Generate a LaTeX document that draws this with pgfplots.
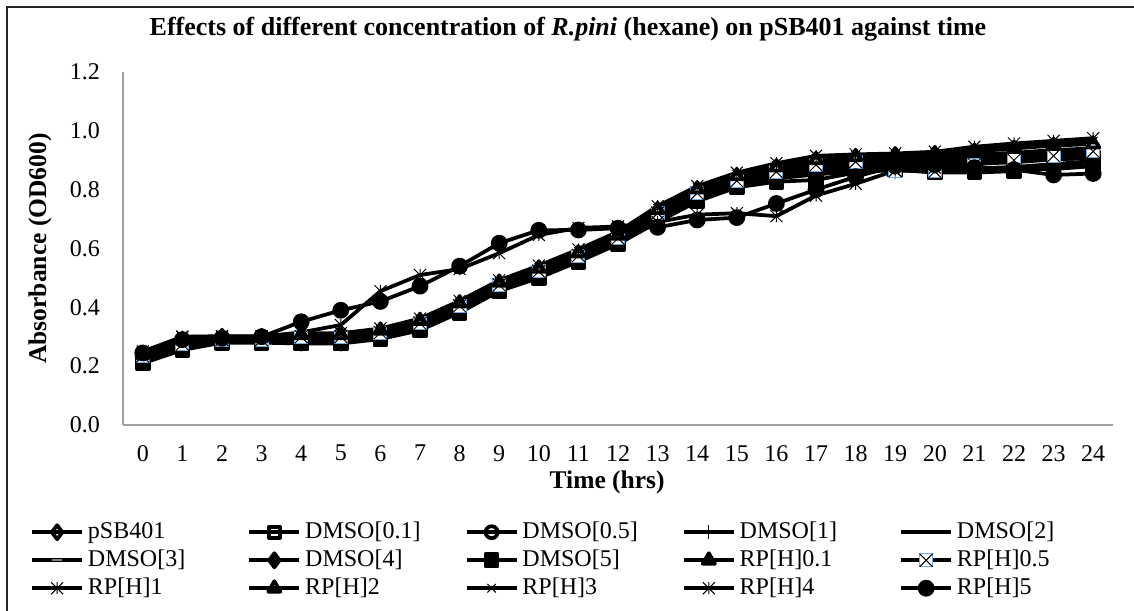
\documentclass[border=0pt]{standalone}
\usepackage{fontspec}
\setmainfont{Liberation Serif}
\usepackage{pgfplots}
\pgfplotsset{compat=1.18}
\usepackage{pgfplotstable}

\definecolor{axgray}{RGB}{160,160,160}
\definecolor{boxblue}{RGB}{120,170,225}

\pgfdeclareplotmark{boxx}{%
  \pgfpathrectangle{\pgfqpoint{-\pgfplotmarksize}{-\pgfplotmarksize}}{\pgfqpoint{2\pgfplotmarksize}{2\pgfplotmarksize}}%
  \pgfsetfillcolor{white}\pgfsetstrokecolor{boxblue}%
  \pgfusepath{fill,stroke}%
  \pgfsetstrokecolor{black}%
  \pgfpathmoveto{\pgfqpoint{-\pgfplotmarksize}{-\pgfplotmarksize}}%
  \pgfpathlineto{\pgfqpoint{\pgfplotmarksize}{\pgfplotmarksize}}%
  \pgfpathmoveto{\pgfqpoint{-\pgfplotmarksize}{\pgfplotmarksize}}%
  \pgfpathlineto{\pgfqpoint{\pgfplotmarksize}{-\pgfplotmarksize}}%
  \pgfusepath{stroke}}

\pgfdeclareplotmark{xstar}{%
  \pgfpathmoveto{\pgfqpoint{-\pgfplotmarksize}{-\pgfplotmarksize}}%
  \pgfpathlineto{\pgfqpoint{\pgfplotmarksize}{\pgfplotmarksize}}%
  \pgfpathmoveto{\pgfqpoint{-\pgfplotmarksize}{\pgfplotmarksize}}%
  \pgfpathlineto{\pgfqpoint{\pgfplotmarksize}{-\pgfplotmarksize}}%
  \pgfpathmoveto{\pgfqpoint{0pt}{-\pgfplotmarksize}}%
  \pgfpathlineto{\pgfqpoint{0pt}{\pgfplotmarksize}}%
  \pgfusepath{stroke}}

\pgfplotstableread{
t pSB D01 D05 D1 D2 D3 D4 D5
0 0.22 0.22 0.23 0.235 0.225 0.23 0.215 0.21
1 0.268 0.262 0.27 0.28 0.268 0.275 0.258 0.255
2 0.29 0.285 0.29 0.295 0.288 0.292 0.282 0.28
3 0.29 0.286 0.292 0.297 0.29 0.294 0.283 0.28
4 0.288 0.284 0.292 0.30 0.287 0.296 0.28 0.277
5 0.288 0.284 0.293 0.302 0.287 0.297 0.28 0.277
6 0.303 0.298 0.308 0.315 0.301 0.311 0.295 0.292
7 0.333 0.328 0.34 0.348 0.333 0.343 0.325 0.322
8 0.393 0.388 0.40 0.408 0.393 0.403 0.385 0.382
9 0.466 0.462 0.47 0.478 0.466 0.474 0.458 0.455
10 0.513 0.508 0.518 0.525 0.513 0.521 0.505 0.50
11 0.566 0.562 0.57 0.578 0.566 0.573 0.558 0.555
12 0.626 0.622 0.63 0.638 0.626 0.633 0.618 0.615
13 0.703 0.698 0.712 0.722 0.703 0.716 0.695 0.69
14 0.772 0.767 0.78 0.792 0.772 0.786 0.763 0.76
15 0.822 0.817 0.827 0.837 0.82 0.831 0.812 0.808
16 0.848 0.843 0.855 0.867 0.848 0.861 0.838 0.827
17 0.868 0.862 0.875 0.887 0.868 0.881 0.852 0.833
18 0.878 0.872 0.885 0.897 0.878 0.891 0.862 0.858
19 0.883 0.877 0.895 0.907 0.888 0.901 0.868 0.868
20 0.883 0.872 0.895 0.907 0.888 0.901 0.865 0.858
21 0.888 0.872 0.90 0.912 0.893 0.906 0.867 0.858
22 0.893 0.877 0.905 0.917 0.898 0.911 0.87 0.863
23 0.903 0.887 0.91 0.927 0.903 0.919 0.877 0.873
24 0.908 0.897 0.915 0.932 0.908 0.926 0.885 0.882
}\ctrl

\pgfplotstableread{
t R01 R05 R1 R2 R3 R4 R5
0 0.235 0.235 0.245 0.24 0.24 0.25 0.245
1 0.285 0.275 0.30 0.29 0.295 0.30 0.29
2 0.298 0.29 0.302 0.30 0.30 0.30 0.295
3 0.298 0.29 0.302 0.30 0.30 0.30 0.30
4 0.302 0.30 0.312 0.307 0.308 0.315 0.351
5 0.304 0.30 0.312 0.307 0.31 0.34 0.39
6 0.318 0.314 0.328 0.322 0.324 0.455 0.42
7 0.35 0.346 0.362 0.355 0.358 0.51 0.472
8 0.41 0.405 0.422 0.415 0.418 0.53 0.54
9 0.48 0.476 0.492 0.485 0.488 0.584 0.618
10 0.528 0.522 0.542 0.533 0.536 0.646 0.662
11 0.58 0.576 0.597 0.585 0.59 0.67 0.663
12 0.64 0.635 0.657 0.645 0.65 0.675 0.669
13 0.727 0.72 0.744 0.732 0.737 0.69 0.672
14 0.797 0.788 0.812 0.802 0.807 0.715 0.697
15 0.842 0.83 0.858 0.847 0.852 0.72 0.705
16 0.872 0.861 0.89 0.877 0.882 0.71 0.753
17 0.892 0.884 0.915 0.902 0.907 0.78 0.80
18 0.902 0.895 0.92 0.912 0.916 0.82 0.844
19 0.91 0.865 0.923 0.918 0.92 0.865 0.88
20 0.915 0.862 0.929 0.922 0.925 0.875 0.885
21 0.92 0.885 0.946 0.93 0.938 0.87 0.875
22 0.925 0.90 0.957 0.94 0.948 0.87 0.868
23 0.935 0.915 0.966 0.95 0.958 0.87 0.85
24 0.94 0.93 0.975 0.955 0.965 0.88 0.855
}\rp

\newcommand{\legent}[1]{\makebox[154.5pt][l]{#1}}

\begin{document}
\begin{tikzpicture}
\useasboundingbox (0pt,0pt) rectangle (1134pt,-610pt);
\fill[white] (0pt,0pt) rectangle (1134pt,-610pt);
\draw[line width=1.5pt, black!85] (7pt,-612pt) -- (7pt,-7pt) -- (1136pt,-7pt);
\begin{axis}[
  at={(123pt,-425pt)}, anchor=south west,
  scale only axis, width=990pt, height=353pt,
  xmin=-0.5, xmax=24.5, ymin=0, ymax=1.2,
  xtick={0,1,...,24}, ytick={0,0.2,0.4,0.6,0.8,1.0,1.2},
  major tick length=0pt,
  axis x line*=bottom, axis y line*=left,
  axis line style={axgray, line width=1.3pt, -},
  clip=false,
  /pgf/number format/assume math mode=true,
  tick label style={font=\fontsize{24}{28}\selectfont, inner sep=0pt},
  yticklabel style={xshift=-23pt, /pgf/number format/.cd, fixed, fixed zerofill, precision=1},
  xticklabel style={yshift=-20pt},
  title={Effects of different concentration of \textit{R.pini} (hexane) on pSB401 against time},
  title style={at={(axis description cs:0.4495,1.105)}, anchor=center, font=\bfseries\fontsize{26}{30}\selectfont, inner sep=0pt},
  xlabel={Time (hrs)},
  xlabel style={at={(axis description cs:0.489,-0.1615)}, anchor=center, font=\bfseries\fontsize{25.5}{30}\selectfont, inner sep=0pt},
  ylabel={Absorbance (OD600)},
  ylabel style={at={(axis description cs:-0.0838,0.5)}, anchor=center, font=\bfseries\fontsize{25.5}{30}\selectfont, inner sep=0pt},
  legend columns=5,
  legend style={at={(axis description cs:-0.0939,-0.272)}, anchor=north west, draw=none, fill=none,
    inner sep=0pt, font=\fontsize{24}{28}\selectfont, column sep=4pt, row sep=6pt,
    nodes={inner sep=0pt, text height=17pt, text depth=5pt},
    /tikz/every even column/.append style={column sep=5pt}},
  legend cell align=left,
  legend image code/.code={\draw[mark repeat=2, mark phase=2, #1] plot coordinates {(0pt,0pt) (25pt,0pt) (50pt,0pt)};},
  ser/.style={black, line width=3.75pt, line join=round, mark size=6pt, mark options={solid, line width=1pt, draw=black}},
]
\addplot[ser, mark=diamond, mark size=7pt, mark options={fill=white}] table[x=t,y=pSB]{\ctrl};
\addlegendentry{\legent{pSB401}}
\addplot[ser, mark=square, mark size=5.5pt, mark options={fill=white}] table[x=t,y=D01]{\ctrl};
\addlegendentry{\legent{DMSO[0.1]}}
\addplot[ser, mark=o, mark options={fill=white}] table[x=t,y=D05]{\ctrl};
\addlegendentry{\legent{DMSO[0.5]}}
\addplot[ser, mark=|, mark size=7pt] table[x=t,y=D1]{\ctrl};
\addlegendentry{\legent{DMSO[1]}}
\addplot[ser, mark=-, mark size=6pt] table[x=t,y=D2]{\ctrl};
\addlegendentry{\legent{DMSO[2]}}
\addplot[ser, mark=-, mark size=5pt, mark options={draw=gray, line width=1.5pt}] table[x=t,y=D3]{\ctrl};
\addlegendentry{\legent{DMSO[3]}}
\addplot[ser, mark=diamond*, mark size=7pt, mark options={fill=black}] table[x=t,y=D4]{\ctrl};
\addlegendentry{\legent{DMSO[4]}}
\addplot[ser, mark=square*, mark size=6pt, mark options={fill=black}] table[x=t,y=D5]{\ctrl};
\addlegendentry{\legent{DMSO[5]}}
\addplot[ser, mark=triangle*, mark size=7pt, mark options={fill=black}] table[x=t,y=R01]{\rp};
\addlegendentry{\legent{RP[H]0.1}}
\addplot[ser, mark=boxx, mark size=6.5pt] table[x=t,y=R05]{\rp};
\addlegendentry{\legent{RP[H]0.5}}
\addplot[ser, mark=xstar, mark size=6pt] table[x=t,y=R1]{\rp};
\addlegendentry{\legent{RP[H]1}}
\addplot[ser, mark=triangle, mark size=7pt, mark options={fill=white}] table[x=t,y=R2]{\rp};
\addlegendentry{\legent{RP[H]2}}
\addplot[ser, mark=x, mark size=6pt] table[x=t,y=R3]{\rp};
\addlegendentry{\legent{RP[H]3}}
\addplot[ser, mark=xstar, mark size=6pt] table[x=t,y=R4]{\rp};
\addlegendentry{\legent{RP[H]4}}
\addplot[ser, mark=*, mark size=6.5pt, mark options={fill=black}] table[x=t,y=R5]{\rp};
\addlegendentry{\legent{RP[H]5}}
\end{axis}
\end{tikzpicture}
\end{document}
